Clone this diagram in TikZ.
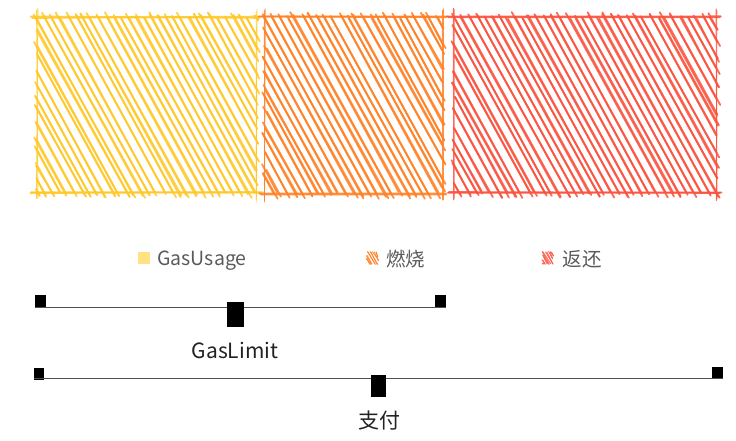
\documentclass[tikz,border=0pt]{standalone}
\usepackage{fontspec}
\setmainfont{Noto Sans CJK SC}
\usetikzlibrary{positioning}

\definecolor{gasyellow}{RGB}{255,200,40}
\definecolor{burnorange}{RGB}{255,128,36}
\definecolor{refundred}{RGB}{250,82,62}
\definecolor{legendfill}{RGB}{255,226,130}
\definecolor{legendtext}{RGB}{90,90,90}
\definecolor{bartext}{RGB}{34,34,34}
\definecolor{barline}{RGB}{80,80,80}

% sketchy hatching: x0 y0 x1 y1 options step overshoot
\newcommand\roughhatch[7]{%
  \pgfmathsetmacro\hstart{#1-0.55*#4}%
  \pgfmathsetmacro\hnext{\hstart+#6}%
  \pgfmathsetmacro\hend{#3-0.55*#2}%
  \foreach \hbase in {\hstart,\hnext,...,\hend} {%
    \pgfmathsetmacro\hc{\hbase+0.25*#6*rand}%
    \pgfmathsetmacro\ys{max(#2,(#1-\hc)/0.55)}%
    \pgfmathsetmacro\ye{min(#4,(#3-\hc)/0.55)}%
    \ifdim\ys pt<\ye pt
      \foreach \pass in {1,2} {%
        \pgfmathsetmacro\ea{#7*(0.3+0.7*rand)}%
        \pgfmathsetmacro\eb{#7*(0.3+0.7*rand)}%
        \pgfmathsetmacro\sa{rand}%
        \pgfmathsetmacro\sb{rand}%
        \draw[hatch,#5] ({\hc+0.55*(\ys-\ea)+\sa},{\ys-\ea}) -- ({\hc+0.55*(\ye+\eb)+\sb},{\ye+\eb});
      }%
    \fi
  }%
}

% sketchy outline: x0 y0 x1 y1 options
\newcommand\roughedges[5]{%
  \foreach \pass in {1,2} {%
    \pgfmathsetmacro\ra{rand}\pgfmathsetmacro\rb{rand}%
    \pgfmathsetmacro\rc{rand}\pgfmathsetmacro\rd{rand}%
    \draw[rough edge,#5] ({#1-5+2*\ra},{#2+\rb}) -- ({#3+4+2*\rc},{#2+\rd});
    \draw[rough edge,#5] ({#1-5+2*\rc},{#4+\ra}) -- ({#3+4+2*\rb},{#4+\rc});
    \draw[rough edge,#5,line width=0.9pt] ({#1+\rd},{#2-7+2*\ra}) -- ({#1+\rb},{#4+7+2*\rc});
    \draw[rough edge,#5,line width=0.9pt] ({#3+\ra},{#2-7+2*\rd}) -- ({#3+\rc},{#4+7+2*\rb});
  }%
}

\begin{document}
\begin{tikzpicture}[
    x=1pt, y=-1pt,
    hatch/.style={line width=1.8pt, line cap=round, draw opacity=0.85},
    rough edge/.style={line width=1.8pt, line cap=round, draw opacity=0.85},
    endmark/.style={fill=black, inner sep=0pt, minimum width=10.5pt, minimum height=12pt},
    midmark/.style={fill=black, inner sep=0pt},
    key/.style={inner sep=0pt, minimum width=11pt, minimum height=12pt},
    bar/.style={draw=barline, line width=1.2pt},
    legend label/.style={text=legendtext, inner sep=0pt, font=\fontsize{19.5}{19.5}\selectfont},
    bar label/.style={text=bartext, inner sep=0pt, font=\fontsize{21}{21}\selectfont}
    ]
    \pgfmathsetseed{11}
    \useasboundingbox (0,0) rectangle (736,441);

    % stacked sketch bars
    \roughhatch{37}{17}{257}{193}{gasyellow}{7.5}{5}
    \roughedges{37}{17}{257}{193}{gasyellow}
    \roughhatch{265}{17}{443}{194}{burnorange}{7.5}{5}
    \roughedges{265}{17}{443}{194}{burnorange}
    \roughhatch{454}{17}{717}{193}{refundred}{7.5}{5}
    \roughedges{454}{17}{717}{193}{refundred}

    % legend
    \node[key, fill=legendfill, minimum width=12pt] (usage key) at (144,258) {};
    \node[legend label, right=7pt of usage key, yshift=-2.5pt] (usage label) {GasUsage};
    \node[key] (burn key) at (372.5,258) {};
    \roughhatch{367}{252}{378}{264}{burnorange, line width=0.9pt}{2.5}{0.5}
    \node[legend label, right=8pt of burn key, yshift=-1pt] (burn label) {燃烧};
    \node[key] (refund key) at (548,258) {};
    \roughhatch{543}{252}{553}{264}{refundred, line width=0.9pt}{2.5}{0.5}
    \node[legend label, right=9pt of refund key, yshift=-1pt] (refund label) {返还};

    % GasLimit
    \node[endmark] (limit start) at (40.5,301) {};
    \node[endmark] (limit end) at (440.5,301) {};
    \draw[bar] (limit start.south west) -- (limit end.south east);
    \node[midmark, minimum width=17pt, minimum height=25pt] (limit mark) at (235.5,314.5) {};
    \node[bar label] (limit label) at (235,350) {GasLimit};

    % payment
    \node[endmark] (pay start) at (39,374) {};
    \node[endmark] (pay end) at (717.5,373) {};
    \draw[bar] ([yshift=2pt]pay start.south west) -- ([yshift=1pt]pay end.south east);
    \node[midmark, minimum width=15pt, minimum height=22pt] (pay mark) at (378.5,386) {};
    \node[bar label] (pay label) at (379,421) {支付};
\end{tikzpicture}
\end{document}
